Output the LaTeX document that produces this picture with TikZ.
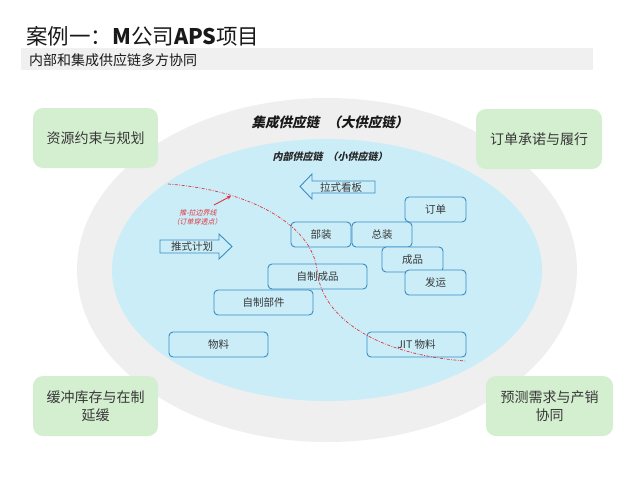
\documentclass[tikz,border=0pt]{standalone}
\usepackage{fontspec}
\setmainfont{Noto Sans CJK SC}
\newfontfamily\slantfont{Noto Sans CJK SC}[FakeSlant=0.22]
\usetikzlibrary{arrows.meta}
\definecolor{outerg}{HTML}{EFEFEF}
\definecolor{innerb}{HTML}{CAEDF8}
\definecolor{greenb}{HTML}{D4EFD0}
\definecolor{boxline}{HTML}{3A8CC4}
\definecolor{redl}{HTML}{E0353F}
\definecolor{txt}{HTML}{383838}
\definecolor{barg}{HTML}{F0F0F0}
\tikzset{
  bluebox/.style={draw=boxline, line width=0.9pt, rounded corners=4pt, fill=innerb,
    text=txt, font=\fontsize{10.5}{12}\selectfont, minimum height=25pt, inner sep=0pt},
  greenbox/.style={fill=greenb, rounded corners=10pt, text=txt, align=center,
    font=\fontsize{14}{18}\selectfont, minimum height=60pt, inner sep=0pt},
  blockarrow/.style={draw=boxline, line width=0.9pt, fill=innerb},
  redlabel/.style={text=redl, font=\fontsize{7}{8}\slantfont, inner sep=0pt},
}
\begin{document}
\begin{tikzpicture}[x=1pt,y=-1pt]
\useasboundingbox (0,0) rectangle (640,480);
% title
\node[anchor=west, inner sep=0pt, text=black!90, font=\fontsize{21.5}{24}\selectfont] (title) at (26,36)
  {案例一：{\bfseries M}公司{\bfseries APS}项目};
\fill[barg] (21,48) rectangle (593,70);
\node[anchor=west, inner sep=0pt, text=black!90, font=\fontsize{14}{16}\selectfont] (sub) at (29,60)
  {内部和集成供应链多方协同};
% ellipses
\fill[outerg] (327,270) ellipse [x radius=250, y radius=172];
\fill[innerb] (327,270) ellipse [x radius=215, y radius=131];
\node[font=\fontsize{13.5}{15}\slantfont\bfseries, text=black!90] (big) at (330,122) {集成供应链\hspace{0.6em}（大供应链）};
\node[font=\fontsize{10}{12}\slantfont\bfseries, text=black!85] (small) at (330,157) {内部供应链\hspace{0.5em}（小供应链）};
% corner boxes
\node[greenbox, minimum width=125pt] (g1) at (95.5,138) {资源约束与规划};
\node[greenbox, minimum width=126pt] (g2) at (539,139) {订单承诺与履行};
\node[greenbox, minimum width=125pt] (g3) at (95.5,406) {缓冲库存与在制\\延缓};
\node[greenbox, minimum width=127pt] (g4) at (549.5,406) {预测需求与产销\\协同};
% block arrows
\draw[blockarrow] (300,186.5) -- (312,174) -- (312,181) -- (375,181) -- (375,193) -- (312,193) -- (312,199) -- cycle;
\node[text=txt, font=\fontsize{10.5}{12}\selectfont, inner sep=0pt] (pull) at (341,187) {拉式看板};
\draw[blockarrow] (232,246.5) -- (219,234) -- (219,240) -- (160,240) -- (160,253) -- (219,253) -- (219,259) -- cycle;
\node[text=txt, font=\fontsize{10.5}{12}\selectfont, inner sep=0pt] (push) at (192,247) {推式计划};
% process boxes
\node[bluebox, minimum width=61pt] (order) at (435.5,209.5) {订单};
\node[bluebox, minimum width=60pt] (sub1) at (321,234.5) {部装};
\node[bluebox, minimum width=60pt] (final) at (382,234.5) {总装};
\node[bluebox, minimum width=61pt] (fg) at (412.5,259.5) {成品};
\node[bluebox, minimum width=61pt] (ship) at (435.5,282.5) {发运};
\node[bluebox, minimum width=99pt] (mfg) at (317.5,276.5) {自制成品};
\node[bluebox, minimum width=99pt] (part) at (263.5,302.5) {自制部件};
\node[bluebox, minimum width=99pt] (mat) at (218.5,344.5) {物料};
\node[bluebox, minimum width=99pt] (jit) at (416.5,344.5) {JIT 物料};
% push-pull boundary
\coordinate (b0) at (168,184);
\coordinate (bm) at (317,270);
\coordinate (b1) at (466,361);
\draw[redl, line width=0.7pt, dash pattern=on 3pt off 1.5pt on 0.8pt off 1.5pt]
  (b0) .. controls (250,190) and (312,225) .. (bm) .. controls (322,320) and (380,355) .. (b1);
\node[redlabel] (rl1) at (198,213) {推-拉边界线};
\node[redlabel] (rl2) at (197,222) {（订单穿透点）};
\coordinate (ra) at (214,205);
\coordinate (rb) at (231,196);
\draw[redl, line width=0.9pt, -{Stealth[length=4pt,width=4pt]}] (ra) -- (rb);
\end{tikzpicture}
\end{document}
